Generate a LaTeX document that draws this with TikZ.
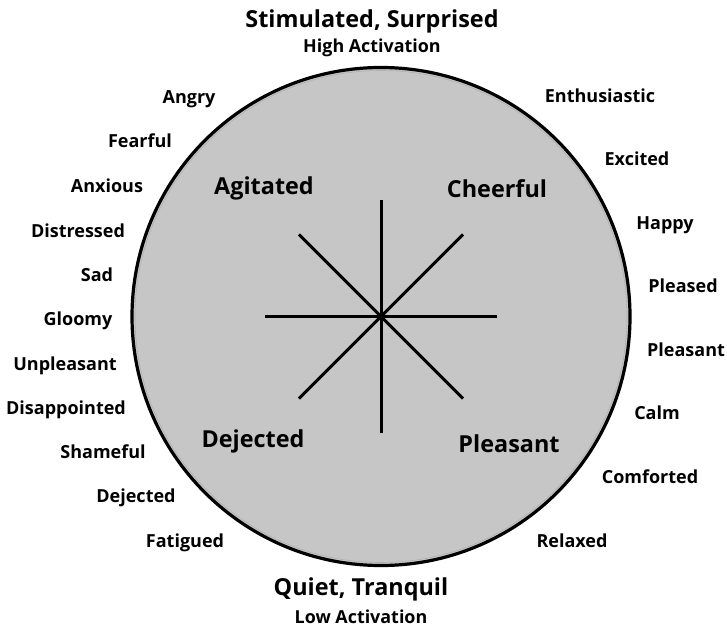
\documentclass[tikz,border=0pt]{standalone}
\usepackage{fontspec}
\setmainfont{Open Sans}
\usetikzlibrary{calc}
\definecolor{diskgray}{HTML}{C6C6C6}
\definecolor{ringgray}{HTML}{B0B0B0}
\tikzset{
  lbl/.style={inner sep=0pt, yshift=-3pt, font=\fontsize{18}{18}\selectfont\bfseries, text height=0.72em, text depth=0.2em},
  big/.style={inner sep=0pt, yshift=-5pt, font=\fontsize{23.4}{23.4}\selectfont\bfseries, text height=0.72em, text depth=0.2em},
  sub/.style={inner sep=0pt, yshift=-4pt, font=\fontsize{17.9}{17.9}\selectfont\bfseries, text height=0.72em, text depth=0.2em},
  spoke/.style={line width=3pt},
}
\begin{document}
\begin{tikzpicture}[x={(1pt,0)}, y={(0,-1pt)}]
\useasboundingbox (0,0) rectangle (727,628);
\coordinate (c) at (381,316.5);
\fill[diskgray] (c) circle[radius=249];
\draw[ringgray, line width=0.6pt] (c) circle[radius=246];
\draw[line width=3.2pt] (c) circle[radius=249];
\foreach \a in {0,45,90,135}{
  \draw[spoke] ($(c)+(\a:116)$) -- ($(c)+(\a+180:116)$);
}
% titles
\node[big] (t1) at (372,20) {Stimulated, Surprised};
\node[sub] (t2) at (372,46) {High Activation};
\node[big] (b1) at (361,588) {Quiet, Tranquil};
\node[sub] (b2) at (361,617) {Low Activation};
% quadrant labels
\node[big] (q1) at (264,187) {Agitated};
\node[big] (q2) at (497,190) {Cheerful};
\node[big] (q3) at (253,440) {Dejected};
\node[big] (q4) at (509,445) {Pleasant};
% left labels
\node[lbl] (l1) at (189,98) {Angry};
\node[lbl] (l2) at (140,142) {Fearful};
\node[lbl] (l3) at (107,187) {Anxious};
\node[lbl] (l4) at (78,232) {Distressed};
\node[lbl] (l5) at (97,276) {Sad};
\node[lbl] (l6) at (78,320) {Gloomy};
\node[lbl] (l7) at (65,365) {Unpleasant};
\node[lbl] (l8) at (66,409) {Disappointed};
\node[lbl] (l9) at (103,453) {Shameful};
\node[lbl] (l10) at (136,497) {Dejected};
\node[lbl] (l11) at (185,542) {Fatigued};
% right labels
\node[lbl] (r1) at (600,97) {Enthusiastic};
\node[lbl] (r2) at (637,160) {Excited};
\node[lbl] (r3) at (665,224) {Happy};
\node[lbl] (r4) at (683,287) {Pleased};
\node[lbl] (r5) at (686,351) {Pleasant};
\node[lbl] (r6) at (657,414) {Calm};
\node[lbl] (r7) at (650,478) {Comforted};
\node[lbl] (r8) at (572,542) {Relaxed};
\end{tikzpicture}
\end{document}
